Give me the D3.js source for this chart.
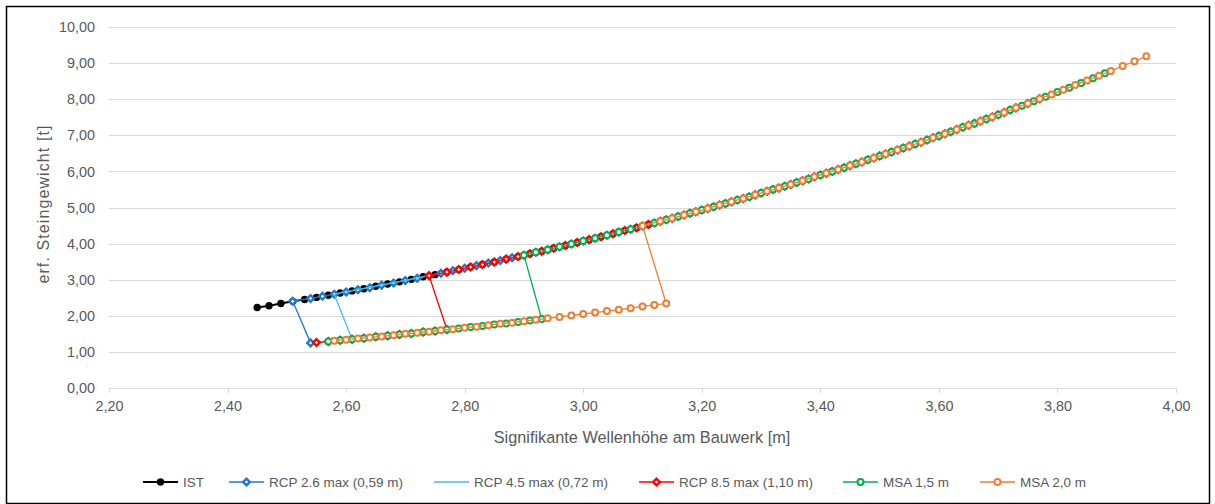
<!DOCTYPE html>
<html lang="de">
<head>
<meta charset="UTF-8">
<title>erf. Steingewicht</title>
<script src="https://cdn.jsdelivr.net/npm/d3@7"></script>
<style>
    body { margin: 0; background: #fff; }
    text { font-family: "Liberation Sans", Arial, sans-serif; fill: #595959; }
    .grid line { stroke: #d9d9d9; shape-rendering: crispEdges; }
    .grid .domain { display: none; }
    .xaxis line, .xaxis path { stroke: #d9d9d9; shape-rendering: crispEdges; }
</style>
</head>
<body>
<script>
// Wellenhoehe [m] / Steingewicht [t]
var ist = [[2.45,2.23],[2.47,2.28],[2.49,2.34],[2.51,2.40],[2.53,2.45],[2.55,2.51],[2.57,2.57],[2.59,2.63],[2.61,2.69],[2.63,2.75],
    [2.65,2.82],[2.67,2.88],[2.69,2.94],[2.71,3.01],[2.73,3.08],[2.75,3.14],[2.77,3.21],[2.79,3.28],[2.81,3.35],[2.83,3.42],
    [2.85,3.49],[2.87,3.57],[2.89,3.64],[2.91,3.72],[2.93,3.79],[2.95,3.87],[2.97,3.95],[2.99,4.03],[3.01,4.11],[3.03,4.19],
    [3.05,4.27],[3.07,4.36],[3.09,4.44],[3.11,4.53],[3.13,4.62],[3.15,4.70],[3.17,4.79],[3.19,4.88],[3.21,4.97],[3.23,5.07],
    [3.25,5.16],[3.27,5.25],[3.29,5.35],[3.31,5.45],[3.33,5.54],[3.35,5.64],[3.37,5.74]]

var rcp26 = [[2.54,1.25],[2.51,2.40],
    [2.54,2.48],[2.56,2.54],[2.58,2.60],[2.60,2.66],[2.62,2.72],[2.64,2.78],[2.66,2.85],[2.68,2.91],[2.70,2.98],[2.72,3.04],
    [2.74,3.11],[2.76,3.18],[2.78,3.25],[2.80,3.32],[2.82,3.39],[2.84,3.46],[2.86,3.53],[2.88,3.61],[2.90,3.68],[2.92,3.76],
    [2.94,3.83],[2.96,3.91],[2.98,3.99],[3.00,4.07],[3.02,4.15],[3.04,4.23],[3.06,4.32],[3.08,4.40],[3.10,4.49],[3.12,4.57],
    [3.14,4.66],[3.16,4.75],[3.18,4.84],[3.20,4.93],[3.22,5.02],[3.24,5.11],[3.26,5.21],[3.28,5.30],[3.30,5.40],[3.32,5.50],
    [3.34,5.59],[3.36,5.69],[3.38,5.79],[3.40,5.90],[3.42,6.00],[3.44,6.10],[3.46,6.21],[3.48,6.32],[3.50,6.43],[3.52,6.54],
    [3.54,6.65],[3.56,6.76],[3.58,6.87],[3.60,6.98],[3.62,7.10],[3.64,7.22],[3.66,7.33],[3.68,7.45],[3.70,7.57],[3.72,7.70]]

var rcp45 = [[2.56,1.28],[2.61,1.35],[2.58,2.60],[2.60,2.66],[2.70,2.98],[2.80,3.32],[2.90,3.68],[3.00,4.07],[3.10,4.49],
    [3.20,4.93],[3.30,5.40],[3.40,5.90],[3.50,6.43],[3.60,6.98],[3.70,7.57],[3.74,7.82]]

var rcp85 = [[2.55,1.26],[2.57,1.29],[2.59,1.32],[2.61,1.35],[2.63,1.38],[2.65,1.42],[2.67,1.45],[2.69,1.48],[2.71,1.51],
    [2.73,1.55],[2.75,1.58],[2.77,1.62],
    [2.74,3.11],[2.77,3.21],[2.79,3.28],[2.81,3.35],[2.83,3.42],[2.85,3.49],[2.87,3.57],[2.89,3.64],[2.91,3.72],[2.93,3.79],
    [2.95,3.87],[2.97,3.95],[2.99,4.03],[3.01,4.11],[3.03,4.19],[3.05,4.27],[3.07,4.36],[3.09,4.44],[3.11,4.53],[3.13,4.62],
    [3.15,4.70],[3.17,4.79],[3.19,4.88],[3.21,4.97],[3.23,5.07],[3.25,5.16],[3.27,5.25],[3.29,5.35],[3.31,5.45],[3.33,5.54],
    [3.35,5.64],[3.37,5.74],[3.39,5.85],[3.41,5.95],[3.43,6.05],[3.45,6.16],[3.47,6.26],[3.49,6.37],[3.51,6.48],[3.53,6.59],
    [3.55,6.70],[3.57,6.81],[3.59,6.93],[3.61,7.04],[3.63,7.16],[3.65,7.28],[3.67,7.39],[3.69,7.51],[3.71,7.63],[3.73,7.76],
    [3.75,7.88],[3.77,8.01]]

var msa15 = [[2.57,1.29],[2.59,1.32],[2.61,1.35],[2.63,1.38],[2.65,1.42],[2.67,1.45],[2.69,1.48],[2.71,1.51],[2.73,1.55],
    [2.75,1.58],[2.77,1.62],[2.79,1.65],[2.81,1.69],[2.83,1.72],[2.85,1.76],[2.87,1.79],[2.89,1.83],[2.91,1.87],[2.93,1.91],
    [2.90,3.68],[2.92,3.76],[2.94,3.83],[2.96,3.91],[2.98,3.99],[3.00,4.07],[3.02,4.15],[3.04,4.23],[3.06,4.32],[3.08,4.40],
    [3.10,4.49],[3.12,4.57],[3.14,4.66],[3.16,4.75],[3.18,4.84],[3.20,4.93],[3.22,5.02],[3.24,5.11],[3.26,5.21],[3.28,5.30],
    [3.30,5.40],[3.32,5.50],[3.34,5.59],[3.36,5.69],[3.38,5.79],[3.40,5.90],[3.42,6.00],[3.44,6.10],[3.46,6.21],[3.48,6.32],
    [3.50,6.43],[3.52,6.54],[3.54,6.65],[3.56,6.76],[3.58,6.87],[3.60,6.98],[3.62,7.10],[3.64,7.22],[3.66,7.33],[3.68,7.45],
    [3.70,7.57],[3.72,7.70],[3.74,7.82],[3.76,7.94],[3.78,8.07],[3.80,8.20],[3.82,8.32],[3.84,8.45],[3.86,8.58],[3.88,8.72]]

var msa20 = [[2.58,1.31],[2.60,1.34],[2.62,1.37],[2.64,1.40],[2.66,1.43],[2.68,1.46],[2.70,1.50],[2.72,1.53],[2.74,1.56],
    [2.76,1.60],[2.78,1.63],[2.80,1.67],[2.82,1.70],[2.84,1.74],[2.86,1.78],[2.88,1.81],[2.90,1.85],[2.92,1.89],[2.94,1.93],
    [2.96,1.97],[2.98,2.01],[3.00,2.05],[3.02,2.09],[3.04,2.13],[3.06,2.17],[3.08,2.21],[3.10,2.26],[3.12,2.30],[3.14,2.34],
    [3.10,4.49],[3.13,4.62],[3.15,4.70],[3.17,4.79],[3.19,4.88],[3.21,4.97],[3.23,5.07],[3.25,5.16],[3.27,5.25],[3.29,5.35],
    [3.31,5.45],[3.33,5.54],[3.35,5.64],[3.37,5.74],[3.39,5.85],[3.41,5.95],[3.43,6.05],[3.45,6.16],[3.47,6.26],[3.49,6.37],
    [3.51,6.48],[3.53,6.59],[3.55,6.70],[3.57,6.81],[3.59,6.93],[3.61,7.04],[3.63,7.16],[3.65,7.28],[3.67,7.39],[3.69,7.51],
    [3.71,7.63],[3.73,7.76],[3.75,7.88],[3.77,8.01],[3.79,8.13],[3.81,8.26],[3.83,8.39],[3.85,8.52],[3.87,8.65],[3.89,8.78],
    [3.91,8.92],[3.93,9.05],[3.95,9.19]]

var seriesNames = ["IST", "RCP 2.6 max (0,59 m)", "RCP 4.5 max (0,72 m)", "RCP 8.5 max (1,10 m)", "MSA 1,5 m", "MSA 2,0 m"]
var xTicks = [2.2, 2.4, 2.6, 2.8, 3.0, 3.2, 3.4, 3.6, 3.8, 4.0]
var yTicks = [0, 1, 2, 3, 4, 5, 6, 7, 8, 9, 10]

var width = 1215, height = 504

var svg = d3.select("body").append("svg")
    .attr("width", width)
    .attr("height", height)

// Rahmen
svg.append("rect")
    .attr("x", 6.5).attr("y", 6.5)
    .attr("width", 1203).attr("height", 497)
    .attr("fill", "#fff")
    .attr("stroke", "#000")
    .attr("stroke-width", 1.5)

var x = d3.scaleLinear().domain([2.2, 4.0]).range([109, 1176])
var y = d3.scaleLinear().domain([0, 10]).range([388, 27])

function komma(d) { return d3.format(".2f")(d).replace(".", ",") }

// Gitter + y-Achse
svg.append("g")
    .attr("class", "grid")
    .attr("transform", "translate(109,0)")
    .call(d3.axisLeft(y).tickValues(yTicks).tickSize(-(1176 - 109)).tickPadding(14).tickFormat(komma))
    .selectAll("text")
    .style("font-size", "14.4px")

// x-Achse
svg.append("g")
    .attr("class", "xaxis")
    .attr("transform", "translate(0,388)")
    .call(d3.axisBottom(x).tickValues(xTicks).tickSizeInner(5).tickSizeOuter(0).tickPadding(8).tickFormat(komma))
    .selectAll("text")
    .style("font-size", "14.4px")

// Achsentitel
svg.append("text")
    .attr("x", 642).attr("y", 443)
    .attr("text-anchor", "middle")
    .style("font-size", "16.3px")
    .text("Signifikante Wellenhöhe am Bauwerk [m]")

svg.append("text")
    .attr("transform", "translate(49,204) rotate(-90)")
    .attr("text-anchor", "middle")
    .style("font-size", "16px")
    .style("letter-spacing", "1.1px")
    .text("erf. Steingewicht [t]")

var line = d3.line().x(function(d) { return x(d[0]) }).y(function(d) { return y(d[1]) })
var diamond = d3.symbol().type(d3.symbolSquare).size(22)

var series = [
    { name: seriesNames[0], data: ist,   color: "#000000", lw: 2,   marker: "dot" },
    { name: seriesNames[1], data: rcp26, color: "#1F78C8", lw: 1.3, marker: "diamond" },
    { name: seriesNames[2], data: rcp45, color: "#45BDEE", lw: 1.3, marker: "none" },
    { name: seriesNames[3], data: rcp85, color: "#FF0000", lw: 1.3, marker: "diamond" },
    { name: seriesNames[4], data: msa15, color: "#00B050", lw: 1.3, marker: "circle" },
    { name: seriesNames[5], data: msa20, color: "#ED7D31", lw: 1.3, marker: "circle" }
]

function drawMarker(g, type, color) {
    if (type == "dot") {
        g.append("circle").attr("r", 3.7).attr("fill", color)
    } else if (type == "diamond") {
        g.append("path").attr("d", diamond).attr("transform", "rotate(45)")
            .attr("fill", "#fff").attr("stroke", color).attr("stroke-width", 2.4)
    } else if (type == "circle") {
        g.append("circle").attr("r", 3)
            .attr("fill", "#fff").attr("stroke", color).attr("stroke-width", 2)
    }
}

series.forEach(function(s) {
    var g = svg.append("g")
    g.append("path")
        .datum(s.data)
        .attr("d", line)
        .attr("fill", "none")
        .attr("stroke", s.color)
        .attr("stroke-width", s.lw)
    if (s.marker != "none") {
        g.selectAll("g.m")
            .data(s.data)
            .enter()
            .append("g")
            .attr("class", "m")
            .attr("transform", function(d) { return "translate(" + x(d[0]) + "," + y(d[1]) + ")" })
            .each(function() { drawMarker(d3.select(this), s.marker, s.color) })
    }
})

// Legende
var legendX = [143, 229, 434, 639, 843, 980]
var legend = svg.selectAll("g.legend")
    .data(series)
    .enter()
    .append("g")
    .attr("class", "legend")
    .attr("transform", function(d, i) { return "translate(" + legendX[i] + ",482)" })

legend.append("line")
    .attr("x1", 0).attr("x2", 35)
    .attr("stroke", function(d) { return d.color })
    .attr("stroke-width", function(d) { return d.lw })

legend.append("g")
    .attr("transform", "translate(17.5,0)")
    .each(function(d) { drawMarker(d3.select(this), d.marker, d.color) })

legend.append("text")
    .attr("x", 40)
    .attr("dy", "0.35em")
    .style("font-size", "13.5px")
    .text(function(d) { return d.name })
</script>
</body>
</html>
